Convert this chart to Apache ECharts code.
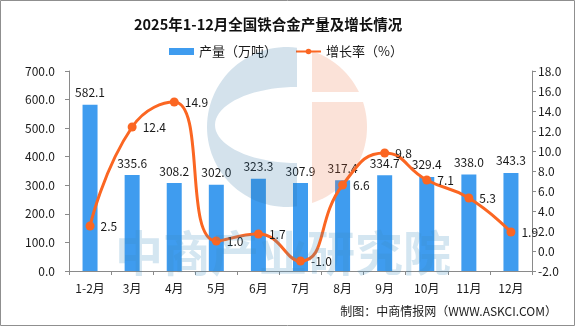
<!DOCTYPE html>
<html>
<head>
<meta charset="utf-8">
<script src="https://cdn.jsdelivr.net/npm/echarts@6/dist/echarts.min.js"></script>
<style>
  html, body { margin: 0; padding: 0; background: #fff; }
  #chart { width: 575px; height: 326px; }
</style>
</head>
<body>
<div id="chart"></div>
<script>
// 2025年1-12月 全国铁合金产量（万吨）与同比增长率（%）
const months = ['1-2月', '3月', '4月', '5月', '6月', '7月', '8月', '9月', '10月', '11月', '12月'];
const output = [582.1, 335.6, 308.2, 302.0, 323.3, 307.9, 317.4, 334.7, 329.4, 338.0, 343.3];
const growth = [2.5, 12.4, 14.9, 1.0, 1.7, -1.0, 6.6, 9.8, 7.1, 5.3, 1.9];

const FONT = 'SimSun, "Noto Sans CJK SC", sans-serif';
const TEXT = '#1a1a1a';
const AXIS = '#8a8a8a';

// points along an elliptical arc (angles in degrees, screen coordinates)
function arcPts(cx, cy, rx, ry, a0, a1, n) {
  const pts = [];
  for (let i = 0; i <= n; i++) {
    const a = (a0 + (a1 - a0) * i / n) * Math.PI / 180;
    pts.push([cx + rx * Math.cos(a), cy + ry * Math.sin(a)]);
  }
  return pts;
}

// logo shapes for the background watermark
const LC = [287, 127], LR = 80;
const blueC = []
  .concat(arcPts(LC[0], LC[1], LR, LR, -82.8, -277.2, 60))      // outer arc, top -> left -> bottom
  .concat(arcPts(297, 125, 82, 38, 90, 270, 40));               // inner cut, bottom -> left -> top
const orangeTop = [[312, 51]]
  .concat(arcPts(LC[0], LC[1], LR, LR, -71.8, -25.9, 20))
  .concat([[312, 92]]);
const orangeBottom = [[312, 102]]
  .concat(arcPts(LC[0], LC[1], LR, LR, -18.2, 71.8, 40));

const chart = echarts.init(document.getElementById('chart'), null, { renderer: 'canvas' });

chart.setOption({
  backgroundColor: '#fff',
  animation: false,
  textStyle: { fontFamily: FONT },
  title: {
    text: '2025年1-12月全国铁合金产量及增长情况',
    left: 129,
    top: 12,
    textStyle: { fontFamily: FONT, fontSize: 14.5, fontWeight: 'bold', color: '#111' }
  },
  legend: {
    left: 164,
    top: 40,
    itemWidth: 25,
    itemHeight: 7,
    itemGap: 18,
    textStyle: { fontFamily: FONT, fontSize: 13, color: TEXT },
    data: [
      { name: '产量（万吨）', icon: 'rect' },
      { name: '增长率（%）' }
    ]
  },
  grid: { left: 69, right: 43, top: 71, bottom: 55 },
  xAxis: {
    type: 'category',
    data: months,
    axisLine: { lineStyle: { color: AXIS, width: 1 } },
    axisTick: { show: true, length: 4, lineStyle: { color: AXIS } },
    axisLabel: { color: TEXT, fontSize: 12, margin: 11, fontFamily: FONT }
  },
  yAxis: [
    {
      type: 'value',
      min: 0, max: 700, interval: 100,
      axisLine: { show: true, lineStyle: { color: AXIS } },
      axisTick: { show: true, length: 4, lineStyle: { color: AXIS } },
      splitLine: { show: false },
      axisLabel: { color: TEXT, fontSize: 12, margin: 14, fontFamily: FONT,
        formatter: v => v.toFixed(1) }
    },
    {
      type: 'value',
      min: -2, max: 18, interval: 2,
      axisLine: { show: true, lineStyle: { color: AXIS } },
      axisTick: { show: true, length: 4, lineStyle: { color: AXIS } },
      splitLine: { show: false },
      axisLabel: { color: TEXT, fontSize: 12, margin: 6, fontFamily: FONT,
        formatter: v => v.toFixed(1) }
    }
  ],
  series: [
    {
      name: '产量（万吨）',
      type: 'bar',
      data: output,
      barWidth: 15,
      itemStyle: { color: '#3f9cef' },
      label: {
        show: true, position: 'top', distance: 6,
        color: TEXT, fontSize: 12, fontFamily: FONT,
        formatter: p => p.value.toFixed(1)
      },
      z: 2
    },
    {
      name: '增长率（%）',
      type: 'line',
      yAxisIndex: 1,
      data: growth,
      smooth: 0.5,
      symbol: 'circle',
      symbolSize: 9,
      lineStyle: { color: '#fb6622', width: 3 },
      itemStyle: { color: '#fb6622' },
      label: {
        show: true, position: 'right', distance: 6,
        color: TEXT, fontSize: 12, fontFamily: FONT,
        formatter: p => p.value.toFixed(1)
      },
      z: 3
    }
  ],
  graphic: [
    // outer frame
    { type: 'rect', silent: true, z: 100,
      shape: { x: 0.5, y: 0.5, width: 574, height: 325 },
      style: { fill: 'none', stroke: '#8f8f8f', lineWidth: 1 } },
    // watermark logo (blue "C" and orange half-disc)
    { type: 'polygon', silent: true, z: 50,
      shape: { points: blueC },
      style: { fill: 'rgba(40,110,160,0.2)' } },
    { type: 'polygon', silent: true, z: 50,
      shape: { points: orangeTop },
      style: { fill: 'rgba(235,110,60,0.2)' } },
    { type: 'polygon', silent: true, z: 50,
      shape: { points: orangeBottom },
      style: { fill: 'rgba(235,110,60,0.2)' } },
    // watermark text
    { type: 'text', silent: true, z: 50, left: 115, top: 229,
      style: { text: '中商产业研究院', font: 'bold 48px "Noto Sans CJK SC", sans-serif',
        fill: 'rgba(60,140,190,0.22)' } },
    // credit line
    { type: 'text', silent: true, z: 60, right: 18, top: 305,
      style: { text: '制图：中商情报网（WWW.ASKCI.COM）', font: '12px ' + FONT, fill: TEXT } }
  ]
});
</script>
</body>
</html>
